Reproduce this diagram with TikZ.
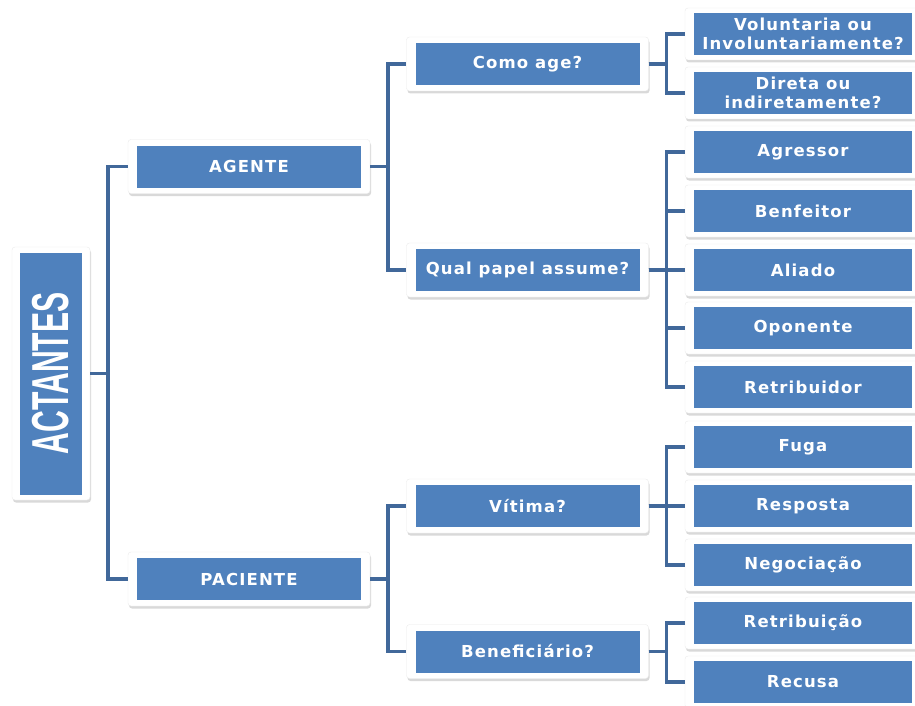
\documentclass[tikz,border=0pt]{standalone}
\usepackage{fontspec}
\usetikzlibrary{shadows}
\newfontfamily\boxfont[LetterSpace=7]{DejaVu Sans}
\newfontfamily\bigfont{Liberation Sans}
\definecolor{boxblue}{HTML}{4F81BD}
\definecolor{linkblue}{HTML}{41689A}
\tikzset{
  frm/.style={fill=white, draw=black!8, line width=0.4pt, rounded corners=3pt,
    drop shadow={opacity=0.3, shadow xshift=1pt, shadow yshift=-2.5pt},
    inner sep=0pt, minimum width=242, minimum height=54},
  inbox/.style={fill=boxblue, draw=none, inner sep=0pt, text=white,
    font=\boxfont\bfseries\fontsize{16.5}{19}\selectfont, align=center,
    minimum width=224, minimum height=42},
  rfrm/.style={frm, minimum width=236, minimum height=52},
  rbox/.style={inbox, minimum width=218, minimum height=42},
  conn/.style={draw=linkblue, line width=3.5pt}
}
\begin{document}
\begin{tikzpicture}[x=1pt,y=-1pt]
\useasboundingbox (0,0) rectangle (915,706);
\clip (0,0) rectangle (915,706);
% root
\node[frm, minimum width=78, minimum height=253] (actf) at (51,373.5) {};
\node[inbox, minimum width=62, minimum height=242] (act) at (actf.center)
  {\rotatebox{90}{\scalebox{0.58}[1]{\bigfont\fontsize{52}{52}\selectfont ACTANTES}}};
% level 1
\node[frm] (agf) at (249,166.5) {};
\node[inbox] (ag) at (agf.center) {AGENTE};
\node[frm] (pacf) at (249,579) {};
\node[inbox] (pac) at (pacf.center) {PACIENTE};
% level 2
\node[frm] (comof) at (527.5,64) {};
\node[inbox] (como) at (comof.center) {Como age?};
\node[frm] (qualf) at (527.5,270) {};
\node[inbox] (qual) at (qualf.center) {Qual papel assume?};
\node[frm] (vitf) at (527.5,506) {};
\node[inbox] (vit) at (vitf.center) {Vítima?};
\node[frm] (benf) at (527.5,651.5) {};
\node[inbox] (ben) at (benf.center) {Beneficiário?};
% level 3
\foreach \n/\y/\t in {volf/34/{Voluntaria ou\\Involuntariamente?},
                      dirf/93/{Direta ou\\indiretamente?},
                      agrf/152/Agressor, benff/211/Benfeitor, alif/270/Aliado,
                      opof/328/Oponente, retf/387/Retribuidor,
                      fugf/447/Fuga, resf/506/Resposta, negf/565/Negociação,
                      rtbf/623/Retribuição, recf/682/Recusa}{
  \node[rfrm] (\n) at (803,\y) {};
  \node[rbox] at (\n.center) {\t};
}
% connectors
\draw[conn] (actf.east) -- ++(18,0) |- (agf.west);
\draw[conn] (actf.east) -- ++(18,0) |- (pacf.west);
\draw[conn] (agf.east) -- ++(18,0) |- (comof.west);
\draw[conn] (agf.east) -- ++(18,0) |- (qualf.west);
\draw[conn] (pacf.east) -- ++(18,0) |- (vitf.west);
\draw[conn] (pacf.east) -- ++(18,0) |- (benf.west);
\foreach \t in {volf,dirf}{\draw[conn] (comof.east) -- ++(18,0) |- (\t.west);}
\foreach \t in {agrf,benff,alif,opof,retf}{\draw[conn] (qualf.east) -- ++(18,0) |- (\t.west);}
\foreach \t in {fugf,resf,negf}{\draw[conn] (vitf.east) -- ++(18,0) |- (\t.west);}
\foreach \t in {rtbf,recf}{\draw[conn] (benf.east) -- ++(18,0) |- (\t.west);}
\end{tikzpicture}
\end{document}
